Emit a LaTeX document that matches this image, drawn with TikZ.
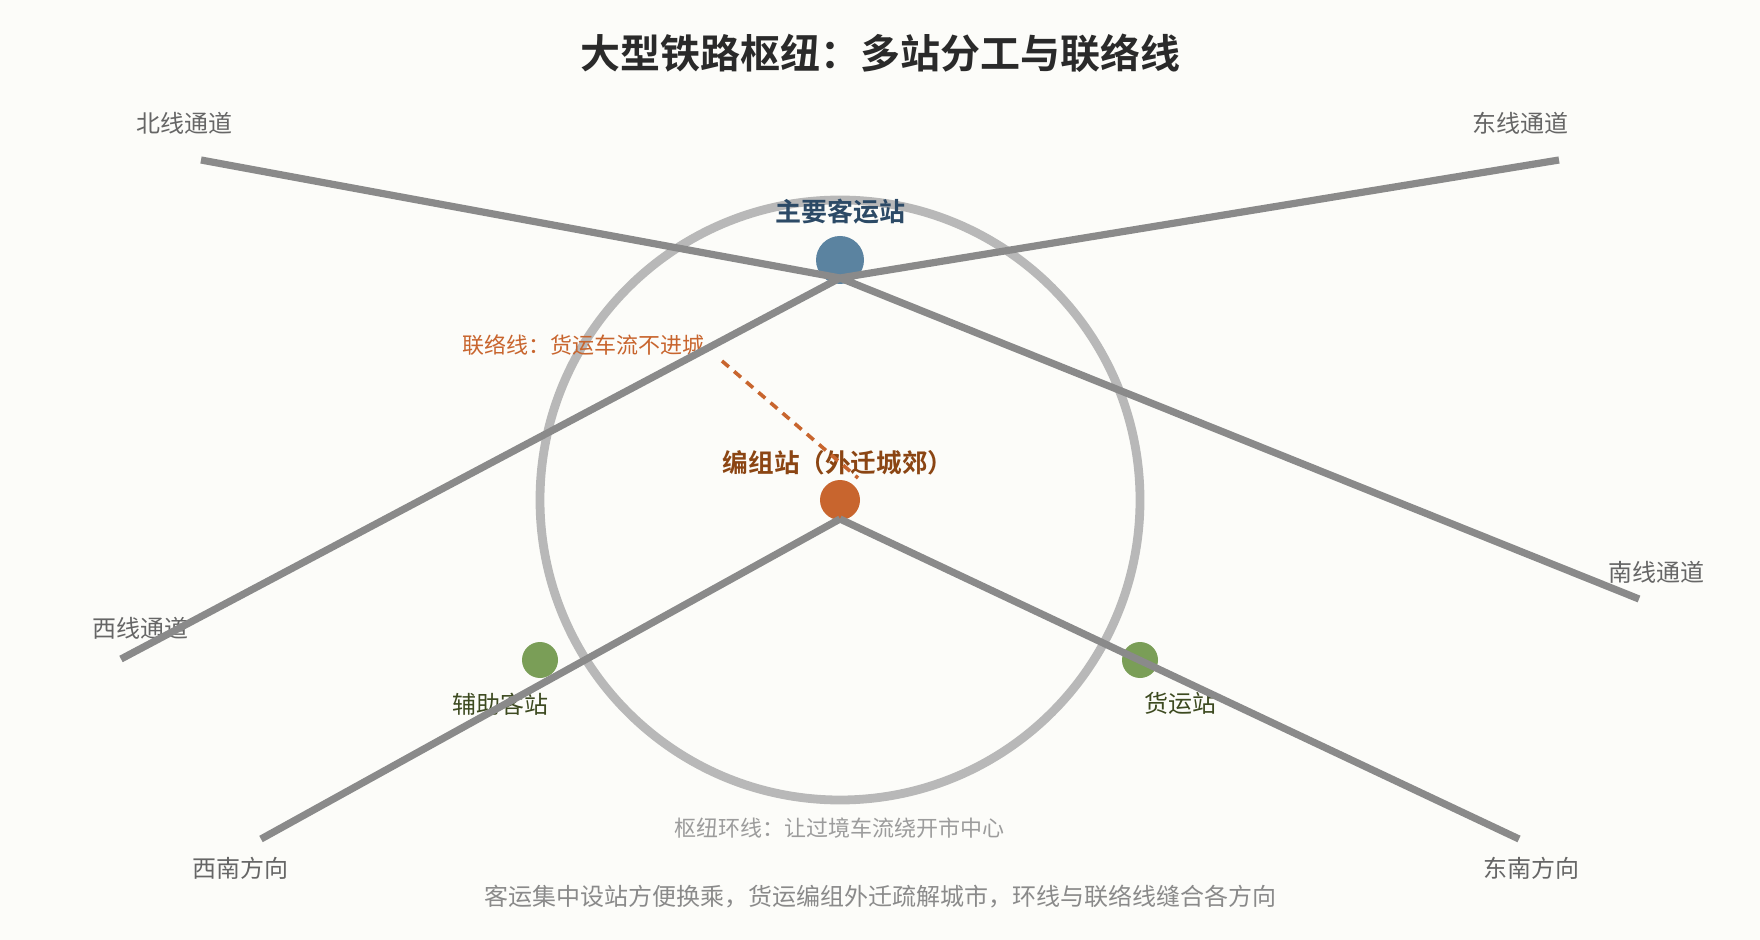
\documentclass[tikz,border=0pt]{standalone}
\usepackage{fontspec}
\setmainfont{Noto Sans CJK SC}[BoldFont={Noto Sans CJK SC Bold}]
\usepackage[]{xcolor}
\usepackage[]{tikz}
\usetikzlibrary{positioning}
\definecolor{bgcol}{HTML}{FCFCF9}
\definecolor{titlecol}{HTML}{2A2A2A}
\definecolor{myblue}{HTML}{5B83A0}
\definecolor{mydarkblue}{HTML}{2C4A66}
\definecolor{myorange}{HTML}{C8652E}
\definecolor{mybrown}{HTML}{8B4513}
\definecolor{mygreen}{HTML}{7A9E57}
\definecolor{mydarkgreen}{HTML}{3D4A20}
\definecolor{linegray}{HTML}{8A8A8A}
\definecolor{ringgray}{HTML}{B8B8B8}
\definecolor{dirgray}{HTML}{666666}
\tikzset{
  station/.style={circle,inner sep=0,outer sep=0},
  station main/.style={station,fill=myblue,minimum size=24pt},
  station yard/.style={station,fill=myorange,minimum size=20pt},
  station side/.style={station,fill=mygreen,minimum size=18pt},
  corridor/.style={line width=3.6pt,linegray}, % trunk lines
  ring/.style={line width=4.4pt,ringgray},
  link/.style={line width=1.8pt,myorange,dash pattern=on 4.5pt off 3.5pt},
  txt/.style={inner sep=0,outer sep=0},
  label dir/.style={txt,text=dirgray,font=\fontsize{12}{14}\selectfont},
  label side/.style={txt,text=mydarkgreen,font=\fontsize{12}{14}\selectfont}
}
\begin{document}
\begin{tikzpicture}[x=0.5pt,y=-0.5pt]
      \fill[bgcol] (0,0) rectangle (1760,940);
      \useasboundingbox (0,0) rectangle (1760,940);
      % hub points and corridor ends
      \coordinate (hub)   at (840,500);
      \coordinate (top)   at (840,278);
      \coordinate (low)   at (840,519);
      \coordinate (north) at (201,160);
      \coordinate (east)  at (1559,160);
      \coordinate (west)  at (121,659);
      \coordinate (south) at (1639,599);
      \coordinate (sw)    at (261,839);
      \coordinate (se)    at (1519,839);
      \coordinate (linkA) at (722,361);
      \coordinate (linkB) at (858,478);
      \draw[ring] (hub) circle[radius=150pt];
      \node[station main] (pass) at (840,260) {};
      \node[station yard] (yard) at (hub) {};
      \node[station side] (aux)  at (540,660) {};
      \node[station side] (frt)  at (1140,660) {};
      \node[txt,text=titlecol,font=\fontsize{20}{24}\selectfont\bfseries] (title) at (880,53) {大型铁路枢纽：多站分工与联络线};
      \node[label dir] (lN)  at (184,123)  {北线通道};
      \node[label dir] (lE)  at (1520,123) {东线通道};
      \node[label dir] (lW)  at (140,628)  {西线通道};
      \node[label dir] (lS)  at (1656,572) {南线通道};
      \node[label dir] (lSW) at (240,868)  {西南方向};
      \node[label dir] (lSE) at (1531,868) {东南方向};
      \node[txt,text=mydarkblue,font=\fontsize{13}{15}\selectfont\bfseries] (lpass) at (840,212) {主要客运站};
      \node[txt,text=mybrown,font=\fontsize{12.8}{15}\selectfont\bfseries] (lyard) at (838,463) {编组站（外迁城郊）};
      \node[label side] (laux) at (500,704)  {辅助客站};
      \node[label side] (lfrt) at (1180,703) {货运站};
      \node[txt,text=myorange,font=\fontsize{11}{13}\selectfont] (llink) at (583,345) {联络线：货运车流不进城};
      \node[txt,text=ringgray!85!black,font=\fontsize{11}{13}\selectfont] (lring) at (839,828) {枢纽环线：让过境车流绕开市中心};
      \node[txt,text=linegray,font=\fontsize{12}{14}\selectfont] (note) at (880,897) {客运集中设站方便换乘，货运编组外迁疏解城市，环线与联络线缝合各方向};
      \draw[corridor]
      (north) -- (top)
      (east)  -- (top)
      (west)  -- (top)
      (top)   -- (south)
      (low)   -- (sw)
      (low)   -- (se);
      \draw[link] (linkA) -- (linkB);
    \end{tikzpicture}
\end{document}
